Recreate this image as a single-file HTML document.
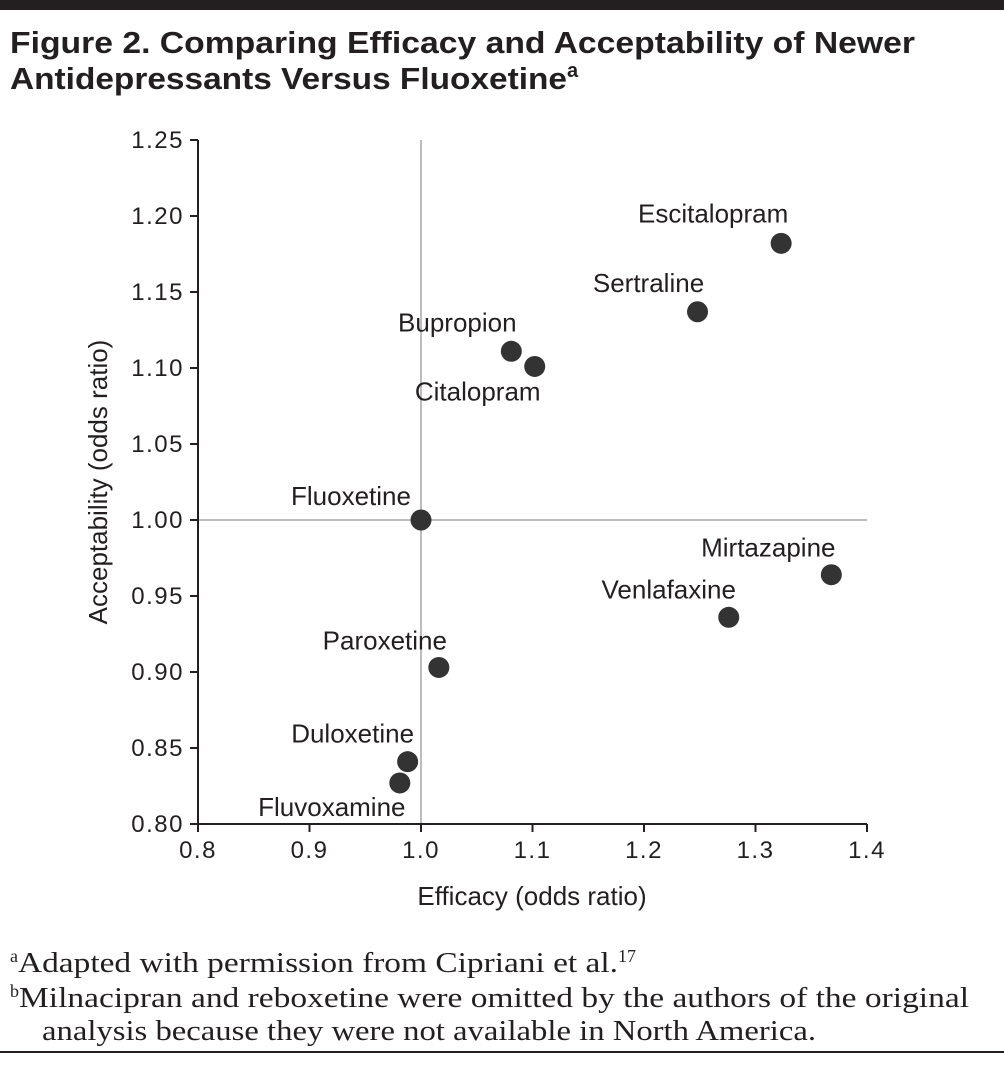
<!DOCTYPE html>
<html><head><meta charset="utf-8"><style>
body{margin:0;background:#fff;width:1004px;height:1060px;overflow:hidden;font-family:"Liberation Sans",sans-serif;}
</style></head><body>
<svg width="1004" height="1060" xmlns="http://www.w3.org/2000/svg">
<rect x="0" y="0" width="1004" height="10" fill="#231f20"/>
<text x="10" y="53" font-size="31" font-weight="bold" fill="#231f20" textLength="905" lengthAdjust="spacingAndGlyphs">Figure 2. Comparing Efficacy and Acceptability of Newer</text>
<text x="10" y="89" font-size="31" font-weight="bold" fill="#231f20"><tspan textLength="557" lengthAdjust="spacingAndGlyphs">Antidepressants Versus Fluoxetine</tspan><tspan font-size="20" dy="-12">a</tspan></text>
<g id="chart"></g>
<text x="10" y="972" font-family="Liberation Serif,serif" font-size="28" fill="#231f20"><tspan font-size="18" dy="-10">a</tspan><tspan dy="10" textLength="600" lengthAdjust="spacingAndGlyphs">Adapted with permission from Cipriani et al.</tspan><tspan font-size="18" dy="-10">17</tspan></text>
<text x="10" y="1007" font-family="Liberation Serif,serif" font-size="28" fill="#231f20"><tspan font-size="18" dy="-10">b</tspan><tspan dy="10" textLength="950" lengthAdjust="spacingAndGlyphs">Milnacipran and reboxetine were omitted by the authors of the original</tspan></text>
<text x="42" y="1040" font-family="Liberation Serif,serif" font-size="28" fill="#231f20" textLength="774" lengthAdjust="spacingAndGlyphs">analysis because they were not available in North America.</text>
<rect x="0" y="1051" width="1004" height="2" fill="#231f20"/>
</svg>
<script>
const names=["Escitalopram","Sertraline","Bupropion","Citalopram","Fluoxetine","Mirtazapine","Venlafaxine","Paroxetine","Duloxetine","Fluvoxamine"];
const efficacy=[1.323,1.248,1.081,1.102,1.0,1.368,1.276,1.016,0.988,0.981];
const acceptability=[1.182,1.137,1.111,1.101,1.0,0.964,0.936,0.903,0.841,0.827];
const xTicks=["0.8","0.9","1.0","1.1","1.2","1.3","1.4"];
const yTicks=["0.80","0.85","0.90","0.95","1.00","1.05","1.10","1.15","1.20","1.25"];
const labelDx=[-68,-49,-54,-57,-70,-63,-60,-54,-55,-68];
const labelDy=[-30,-29,-29,25,-24,-27,-28,-27,-28,24];
const NS="http://www.w3.org/2000/svg";
const X0=198,X1=867,Y0=824,Y1=140;
const sx=v=>X0+(v-0.8)/0.6*(X1-X0);
const sy=v=>Y0-(v-0.8)/0.45*(Y0-Y1);
const g=document.getElementById('chart');
function mk(t,a){const e=document.createElementNS(NS,t);for(const k in a)e.setAttribute(k,a[k]);g.appendChild(e);return e;}
let e;
e=mk('line',{x1:sx(1),x2:sx(1),y1:Y1,y2:Y0,stroke:'#bcbcbc','stroke-width':2});


e=mk('line',{x1:X0,x2:X1,y1:sy(1),y2:sy(1),stroke:'#bcbcbc','stroke-width':2});


e=mk('line',{x1:X0,x2:X0,y1:Y1,y2:Y0,stroke:'#231f20','stroke-width':2});


e=mk('line',{x1:X0,x2:X1,y1:Y0,y2:Y0,stroke:'#231f20','stroke-width':2});


xTicks.forEach(t=>{const x=sx(parseFloat(t));
 e=mk('line',{x1:x,x2:x,y1:Y0,y2:Y0+8,stroke:'#231f20','stroke-width':2});
 
 
 e=mk('text',{x:x,y:Y0+34,'font-size':24,'letter-spacing':1.5,'text-anchor':'middle',fill:'#231f20'});e.textContent=t;
 
 });
yTicks.forEach(t=>{const y=sy(parseFloat(t));
 e=mk('line',{x1:X0-8,x2:X0,y1:y,y2:y,stroke:'#231f20','stroke-width':2});
 
 
 e=mk('text',{x:X0-14,y:y+8,'font-size':24,'letter-spacing':1.5,'text-anchor':'end',fill:'#231f20'});e.textContent=t;
 
 });
e=mk('text',{x:532,y:905,'font-size':26,'text-anchor':'middle',fill:'#231f20'});e.textContent='Efficacy (odds ratio)';


e=mk('text',{x:0,y:0,'font-size':26,'text-anchor':'middle',fill:'#231f20',transform:'translate(107,482) rotate(-90)'});e.textContent='Acceptability (odds ratio)';


names.forEach((n,i)=>{const x=sx(efficacy[i]),y=sy(acceptability[i]);
 e=mk('circle',{cx:x,cy:y,r:10.5,fill:'#333'});
 
 
 e=mk('text',{x:x+labelDx[i],y:y+labelDy[i]+9,'font-size':26,'text-anchor':'middle',fill:'#231f20'});e.textContent=n;
 
 });
</script>
</body></html>
